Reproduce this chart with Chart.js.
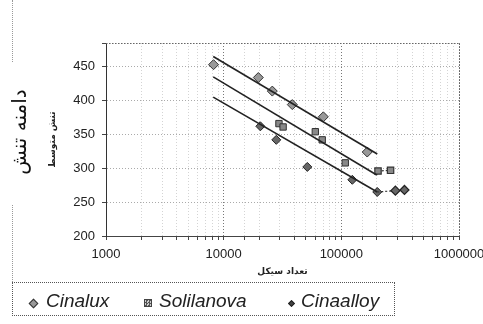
<!DOCTYPE html>
<html><head><meta charset="utf-8">
<script src="https://cdn.jsdelivr.net/npm/chart.js@4.4.1/dist/chart.umd.min.js"></script>
<style>
html,body{margin:0;padding:0;background:#fff;}
#wrap{position:relative;width:483px;height:324px;overflow:hidden;background:#fff;}
canvas{position:absolute;left:0;top:0;}
#legend{position:absolute;left:12px;top:282px;width:383px;height:34px;border:1px dotted #555;box-sizing:border-box;font-family:"Liberation Sans",Arial,sans-serif;font-style:italic;font-size:19px;color:#222;}
.item{position:absolute;top:8px;line-height:20px;white-space:nowrap;}
.mk{position:absolute;box-sizing:border-box;}
.edge{position:absolute;left:12px;width:0;border-left:1px dotted #999;}
</style></head>
<body><div id="wrap">
<canvas id="c" width="483" height="324"></canvas>
<div class="edge" style="top:0;height:62px"></div>
<div class="edge" style="top:205px;height:77px"></div>
<div id="legend">
  <div class="mk" style="left:17px;top:17px;width:7px;height:7px;background:#999;border:1px solid #333;transform:rotate(45deg)"></div>
  <span class="item" style="left:33px">Cinalux</span>
  <div class="mk" style="left:131px;top:16px;width:8px;height:8px;background:repeating-conic-gradient(#555 0 25%,#ccc 0 50%) 0 0/3px 3px;border:1px solid #444"></div>
  <span class="item" style="left:146px">Solilanova</span>
  <div class="mk" style="left:276px;top:18px;width:5px;height:5px;background:#444;border:1px solid #222;transform:rotate(45deg)"></div>
  <span class="item" style="left:288px">Cinaalloy</span>
</div>
</div>
<script>
// ---- data (cycles N, stress amplitude S) ----
const xTickValues = [1000, 10000, 100000, 1000000];
const yTickValues = [200, 250, 300, 350, 400, 450];

const cinaluxN = [8200, 19700, 25900, 38300, 70300, 166000];
const cinaluxS = [453, 434, 414, 394, 376, 324];

const solilanovaN = [29500, 32000, 60100, 68800, 108000];
const solilanovaS = [366, 361, 354, 342, 308];
const solilanovaRunN = [205000, 262000];
const solilanovaRunS = [296, 297];

const cinaalloyN = [20500, 28000, 51400, 124000, 202000];
const cinaalloyS = [362, 342, 302, 283, 265];
const cinaalloyRunN = [288000, 344000];
const cinaalloyRunS = [267, 268];

const trendCinaluxN = [8150, 202000];
const trendCinaluxS = [465, 321];
const trendSolilanovaN = [8150, 200000];
const trendSolilanovaS = [435, 290];
const trendCinaalloyN = [8150, 202000];
const trendCinaalloyS = [405, 265];

const mainTitle = 'دامنه تنش';

const pts = (xs, ys) => xs.map((x, i) => ({x: x, y: ys[i]}));

const framePlugin = {
  id: 'frame',
  afterDatasetsDraw(chart) {
    const a = chart.chartArea, ctx = chart.ctx;
    ctx.save();
    ctx.strokeStyle = '#666';
    ctx.lineWidth = 1;
    ctx.setLineDash([1, 2]);
    ctx.beginPath();
    ctx.moveTo(a.left, a.top + 0.5);
    ctx.lineTo(a.right + 0.5, a.top + 0.5);
    ctx.lineTo(a.right + 0.5, a.bottom);
    ctx.stroke();
    ctx.restore();
  },
  afterDraw(chart) {
    const ctx = chart.ctx;
    ctx.save();
    ctx.translate(21, 132);
    ctx.rotate(-Math.PI / 2);
    ctx.font = '20px "DejaVu Sans"';
    ctx.fillStyle = '#111';
    ctx.textAlign = 'center';
    ctx.textBaseline = 'middle';
    ctx.fillText(mainTitle, 0, 0);
    ctx.restore();
  }
};

const markerBase = {borderWidth: 1, showLine: false};
new Chart(document.getElementById('c'), {
  type: 'scatter',
  data: {
    datasets: [
      {label: 'Cinalux trend', data: pts(trendCinaluxN, trendCinaluxS), showLine: true, borderColor: '#222', borderWidth: 1.6, pointRadius: 0},
      {label: 'Solilanova trend', data: pts(trendSolilanovaN, trendSolilanovaS), showLine: true, borderColor: '#222', borderWidth: 1.6, pointRadius: 0},
      {label: 'Cinaalloy trend', data: pts(trendCinaalloyN, trendCinaalloyS), showLine: true, borderColor: '#222', borderWidth: 1.6, pointRadius: 0},
      {label: 'Solilanova run-out', data: pts([trendSolilanovaN[1]].concat(solilanovaRunN), [trendSolilanovaS[1]].concat(solilanovaRunS)), showLine: true, borderColor: '#333', borderWidth: 1.2, borderDash: [2, 2], pointRadius: [0, 4.5, 4.5], pointStyle: 'rect', backgroundColor: '#888', pointBorderColor: '#333'},
      {label: 'Cinaalloy run-out', data: pts([trendCinaalloyN[1]].concat(cinaalloyRunN), [trendCinaalloyS[1]].concat(cinaalloyRunS)), showLine: true, borderColor: '#333', borderWidth: 1.2, borderDash: [2, 2], pointRadius: [0, 4.5, 4.5], pointStyle: 'rectRot', backgroundColor: '#666', pointBorderColor: '#222'},
      Object.assign({label: 'Cinalux', data: pts(cinaluxN, cinaluxS), pointStyle: 'rectRot', pointRadius: 5, backgroundColor: '#999', borderColor: '#333'}, markerBase),
      Object.assign({label: 'Solilanova', data: pts(solilanovaN, solilanovaS), pointStyle: 'rect', pointRadius: 4.5, backgroundColor: '#888', borderColor: '#333'}, markerBase),
      Object.assign({label: 'Cinaalloy', data: pts(cinaalloyN, cinaalloyS), pointStyle: 'rectRot', pointRadius: 4.5, backgroundColor: '#666', borderColor: '#222'}, markerBase)
    ]
  },
  options: {
    responsive: false,
    animation: false,
    devicePixelRatio: 1,
    layout: {padding: {top: 43, right: 0, bottom: 44, left: 0}},
    plugins: {
      legend: {display: false},
      tooltip: {enabled: false},
      title: {display: false}
    },
    scales: {
      x: {
        type: 'logarithmic', min: 1000, max: 1000000,
        afterFit(s) { s.height = 44; s.paddingRight = 24; s.paddingLeft = 0; },
        ticks: {autoSkip: false, maxRotation: 0, padding: 7, color: '#222',
          font: {family: '"Liberation Sans", Arial, sans-serif', size: 13},
          callback: (v) => xTickValues.includes(v) ? String(v) : ''},
        grid: {color: (c) => (c.tick && xTickValues.includes(c.tick.value)) ? '#777' : '#d4d4d4',
          tickLength: 4, tickColor: '#444', tickBorderDash: []},
        border: {display: true, color: '#444', width: 1, dash: [1, 2]},
        title: {display: true, text: 'تعداد سیکل', color: '#222',
          font: {family: '"DejaVu Sans"', size: 9, weight: 'bold'}, padding: {top: 0, bottom: 3}}
      },
      y: {
        type: 'linear', min: 200, max: 485,
        afterFit(s) { s.width = 106; },
        afterBuildTicks(s) { s.ticks = yTickValues.map(v => ({value: v})).concat([{value: 485}]); },
        ticks: {stepSize: 50, padding: 7, color: '#222',
          font: {family: '"Liberation Sans", Arial, sans-serif', size: 13},
          callback: (v) => yTickValues.includes(v) ? String(v) : ''},
        grid: {color: '#aaa', tickLength: 4, tickColor: '#444', tickBorderDash: []},
        border: {display: true, color: '#333', width: 1, dash: [1, 2]},
        title: {display: true, text: 'تنش متوسط', color: '#222',
          font: {family: '"DejaVu Sans"', size: 9, weight: 'bold'}, padding: {top: 47, bottom: 0}}
      }
    }
  },
  plugins: [framePlugin]
});
</script>
</body></html>
